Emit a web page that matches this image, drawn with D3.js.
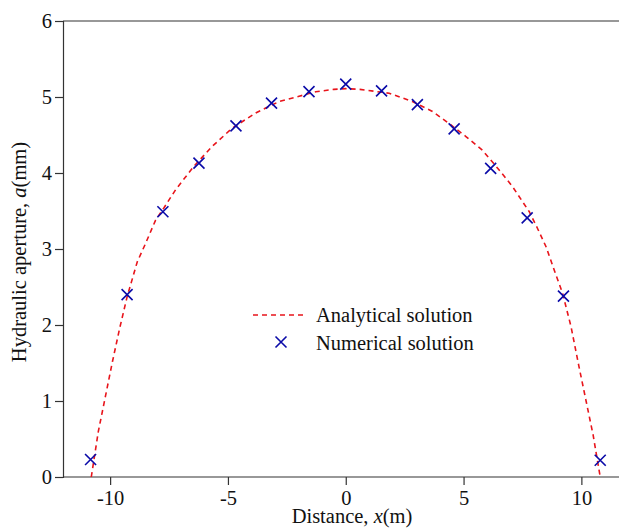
<!DOCTYPE html>
<html><head><meta charset="utf-8">
<script src="https://cdn.jsdelivr.net/npm/d3@7"></script>
<style>body{margin:0;background:#fff}svg{display:block}text{font-family:"Liberation Serif","Times New Roman",serif;fill:#111}</style>
</head><body><svg id="c" width="619" height="528"></svg>
<script>
const analyticalX=[-10.8,-10.5,-10.2,-9.9,-9.6,-9.28,-8.85,-8.5,-8.07,-7.72,-7.22,-6.44,-5.67,-4.82,-3.82,-2.83,-1.98,-1.27,-0.5,0,0.6,1.84,2.83,3.68,4.39,5.1,5.8,6.51,7.08,7.79,8.14,8.5,8.85,9.2,9.56,9.9,10.2,10.5,10.8];
const analyticalY=[0,0.6,1.06,1.52,1.95,2.37,2.83,3.07,3.38,3.54,3.78,4.09,4.35,4.59,4.79,4.94,5.01,5.07,5.1,5.11,5.1,5.05,4.94,4.81,4.65,4.48,4.3,4.04,3.82,3.49,3.27,3.03,2.72,2.42,1.98,1.45,1.0,0.55,0];
const numericalX=[-10.83,-9.28,-7.76,-6.23,-4.66,-3.15,-1.56,0,1.52,3.04,4.6,6.15,7.7,9.24,10.8];
const numericalY=[0.23,2.4,3.49,4.13,4.62,4.92,5.07,5.17,5.08,4.9,4.58,4.06,3.41,2.38,0.22];
const xTicks=[-10,-5,0,5,10];
const yTicks=[0,1,2,3,4,5,6];
const legendLabels=["Analytical solution","Numerical solution"];

const FS=20.5;
const svg=d3.select("#c");
const x=d3.scaleLinear().domain([-12,12]).range([63,628.5]);
const y=d3.scaleLinear().domain([0,6]).range([477,21]);
const axisColor="#333";

// frame top
svg.append("line").attr("x1",63).attr("x2",640).attr("y1",21).attr("y2",21).attr("stroke",axisColor).attr("stroke-width",1.2);

// x axis
const gx=svg.append("g").attr("transform","translate(0,477)");
gx.call(d3.axisBottom(x).tickValues([-7.5,-2.5,2.5,7.5]).tickSize(4).tickFormat(""));
gx.call(d3.axisBottom(x).tickValues(xTicks).tickSize(8).tickFormat(d=>String(d)));
gx.selectAll(".domain").attr("d","M63,0H640");
gx.selectAll("path,line").attr("stroke",axisColor).attr("stroke-width",1.2);
gx.selectAll("text").attr("font-size",FS).attr("fill","#111").attr("font-family","Liberation Serif").attr("y",13).attr("dy","0.71em");

// y axis
const gy=svg.append("g").attr("transform","translate(63,0)");
gy.call(d3.axisLeft(y).tickValues([0.5,1.5,2.5,3.5,4.5,5.5]).tickSize(4).tickFormat(""));
gy.call(d3.axisLeft(y).tickValues(yTicks).tickSize(8).tickFormat(d=>String(d)));
gy.selectAll("path,line").attr("stroke",axisColor).attr("stroke-width",1.2);
gy.selectAll("text").attr("font-size",FS).attr("fill","#111").attr("font-family","Liberation Serif").attr("x",-11);

// axis titles
const xt=svg.append("text").attr("x",352).attr("y",523).attr("text-anchor","middle").attr("font-size",FS);
xt.append("tspan").text("Distance, ");
xt.append("tspan").attr("font-style","italic").text("x");
xt.append("tspan").text("(m)");
const yt=svg.append("text").attr("transform","translate(26,252) rotate(-90)").attr("text-anchor","middle").attr("font-size",FS);
yt.append("tspan").text("Hydraulic aperture, ");
yt.append("tspan").attr("font-style","italic").text("a");
yt.append("tspan").text("(mm)");

// analytical line
const line=d3.line().x(d=>x(d[0])).y(d=>y(d[1]));
svg.append("path").datum(analyticalX.map((v,i)=>[v,analyticalY[i]]))
  .attr("d",line).attr("fill","none").attr("stroke","#e8141b").attr("stroke-width",1.6).attr("stroke-dasharray","5,4");

// numerical markers
const s=5.5;
const cross=(g)=>g.append("path").attr("d",`M${-s},${-s}L${s},${s}M${-s},${s}L${s},${-s}`).attr("stroke","#0a0aa8").attr("stroke-width",1.6).attr("fill","none");
numericalX.forEach((v,i)=>{
  cross(svg.append("g").attr("transform",`translate(${x(v)},${y(numericalY[i])})`));
});

// legend
svg.append("line").attr("x1",253).attr("x2",303).attr("y1",315).attr("y2",315).attr("stroke","#e8141b").attr("stroke-width",1.6).attr("stroke-dasharray","5,4");
svg.append("text").attr("x",316).attr("y",322).attr("font-size",FS).text(legendLabels[0]);
cross(svg.append("g").attr("transform","translate(281,342)"));
svg.append("text").attr("x",316).attr("y",350).attr("font-size",FS).text(legendLabels[1]);
</script></body></html>
